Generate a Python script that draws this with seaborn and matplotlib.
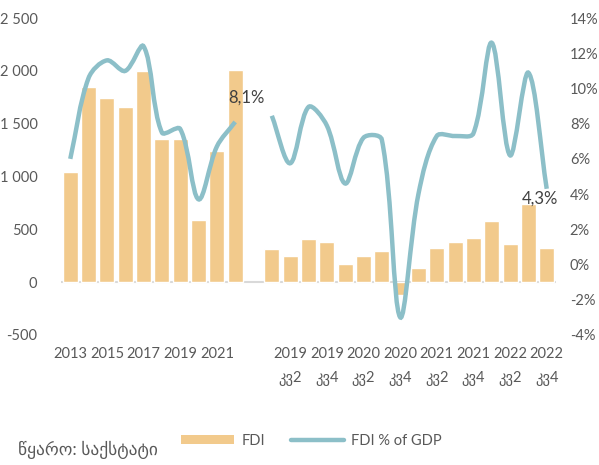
"""
FDI chart: annual 2013-2022 and quarterly 2019-2022, with FDI % of GDP line
"""
import numpy as np
import pandas as pd
import matplotlib
matplotlib.use('Agg')
import matplotlib.pyplot as plt
from matplotlib.path import Path
from matplotlib.patches import PathPatch, Patch
from matplotlib.lines import Line2D
from matplotlib.ticker import FuncFormatter
import seaborn as sns

# ============================================================================
# DATA
# ============================================================================
years = [2013, 2014, 2015, 2016, 2017, 2018, 2019, 2020, 2021, 2022]
fdi_annual = [1040, 1844, 1740, 1660, 2000, 1356, 1359, 590, 1244, 2006]
pct_annual = [6.0, 10.6, 11.6, 11.0, 12.4, 7.5, 7.7, 3.7, 6.7, 8.1]

quarters = ['2019 Q1', '2019 Q2', '2019 Q3', '2019 Q4',
            '2020 Q1', '2020 Q2', '2020 Q3', '2020 Q4',
            '2021 Q1', '2021 Q2', '2021 Q3', '2021 Q4',
            '2022 Q1', '2022 Q2', '2022 Q3', '2022 Q4']
fdi_quarterly = [317, 248, 406, 381, 175, 244, 298, -121,
                 133, 321, 375, 413, 578, 362, 743, 324]
pct_quarterly = [8.45, 5.75, 8.95, 7.9, 4.6, 7.2, 7.1, -3.0,
                 4.0, 7.3, 7.3, 7.45, 12.6, 6.2, 10.9, 4.3]

annual_ticks = ['2013', '2015', '2017', '2019', '2021']
quarter_ticks = ['2019\nკვ2', '2019\nკვ4', '2020\nკვ2', '2020\nკვ4',
                 '2021\nკვ2', '2021\nკვ4', '2022\nკვ2', '2022\nკვ4']

BAR_COLOR = '#F2CA8C'
LINE_COLOR = '#8CBFC8'
TEXT_COLOR = '#595959'

# slot positions: annual bars, one empty slot, then quarterly bars
pos_annual = np.arange(len(years))
pos_quarterly = np.arange(len(quarters)) + len(years) + 1

df = pd.DataFrame({
    'pos': np.concatenate([pos_annual, pos_quarterly]),
    'fdi': fdi_annual + fdi_quarterly,
})


def smooth_path(xs, ys, yscale=1.05):
    # Excel-like smoothing: tangents weighted by neighbouring segment lengths
    pts = np.column_stack([xs, np.asarray(ys) / yscale]).astype(float)
    n = len(pts)
    verts = [pts[0]]
    codes = [Path.MOVETO]
    for i in range(n - 1):
        p0 = pts[i - 1] if i > 0 else pts[i]
        p1 = pts[i]
        p2 = pts[i + 1]
        p3 = pts[i + 2] if i + 2 < n else pts[i + 1]
        d01 = np.linalg.norm(p1 - p0)
        d12 = np.linalg.norm(p2 - p1)
        d23 = np.linalg.norm(p3 - p2)
        c1 = p1 + (p2 - p0) * (d12 / (d01 + d12)) / 3.0
        c2 = p2 - (p3 - p1) * (d12 / (d12 + d23)) / 3.0
        verts += [c1, c2, p2]
        codes += [Path.CURVE4] * 3
    verts = np.array(verts)
    verts[:, 1] *= yscale
    return Path(verts, codes)


# ============================================================================
# PLOT
# ============================================================================
sns.set_style('white')
plt.rcParams['font.family'] = ['Lato', 'DejaVu Sans']

fig = plt.figure(figsize=(5.99, 4.65), dpi=100)
ax = fig.add_axes([0.102, 0.280, 0.826, 0.681])

sns.barplot(data=df, x='pos', y='fdi', native_scale=True, color=BAR_COLOR,
            saturation=1, width=0.82, ax=ax, zorder=2)
ax.axhline(0, color='#D9D9D9', lw=1.5, zorder=1)

ax.set_xlim(-0.5, pos_quarterly[-1] + 0.5)
ax.set_ylim(-500, 2500)
ax.set_yticks(np.arange(-500, 2501, 500))
ax.yaxis.set_major_formatter(FuncFormatter(lambda v, p: f'{int(v):,}'.replace(',', ' ')))

tick_pos = list(pos_annual[::2]) + list(pos_quarterly[1::2])
ax.set_xticks(tick_pos)
ax.set_xticklabels(annual_ticks + quarter_ticks, linespacing=1.9)
ax.set_xlabel('')
ax.set_ylabel('')
ax.tick_params(axis='both', length=0, labelsize=10.5, colors=TEXT_COLOR)
ax.tick_params(axis='y', pad=17)
ax.tick_params(axis='x', pad=9)
for s in ax.spines.values():
    s.set_visible(False)

ax2 = ax.twinx()
ax2.set_ylim(-4, 14)
ax2.set_yticks(np.arange(-4, 15, 2))
ax2.yaxis.set_major_formatter(FuncFormatter(lambda v, p: f'{int(v)}%'))
ax2.tick_params(axis='y', length=0, labelsize=10.5, colors=TEXT_COLOR, pad=10)
for s in ax2.spines.values():
    s.set_visible(False)

for xs, ys in [(pos_annual, pct_annual), (pos_quarterly, pct_quarterly)]:
    ax2.add_patch(PathPatch(smooth_path(xs, ys), facecolor='none',
                            edgecolor=LINE_COLOR, lw=3.2, capstyle='butt', zorder=3))

ax2.annotate('8,1%', (pos_annual[-1], pct_annual[-1]), xytext=(8, 12),
             textcoords='offset points', ha='center', va='bottom',
             fontsize=12, color='#404040')
ax2.annotate('4,3%', (pos_quarterly[-1], pct_quarterly[-1]), xytext=(-5, -1),
             textcoords='offset points', ha='center', va='top',
             fontsize=12, color='#404040')

handles = [Patch(facecolor=BAR_COLOR, edgecolor='none'),
           Line2D([0], [0], color=LINE_COLOR, lw=3.2)]
fig.legend(handles, ['FDI', 'FDI % of GDP'], loc='center', ncol=2,
           bbox_to_anchor=(0.52, 0.052), frameon=False, fontsize=10.5,
           handlelength=3.6, handleheight=0.5, handletextpad=0.5,
           columnspacing=1.8, labelcolor=TEXT_COLOR)

fig.text(0.03, 0.012, 'წყარო: საქსტატი', fontsize=12.5, color=TEXT_COLOR,
         ha='left', va='bottom')

plt.savefig('out.png', dpi=100)
plt.close()
print('saved out.png')
